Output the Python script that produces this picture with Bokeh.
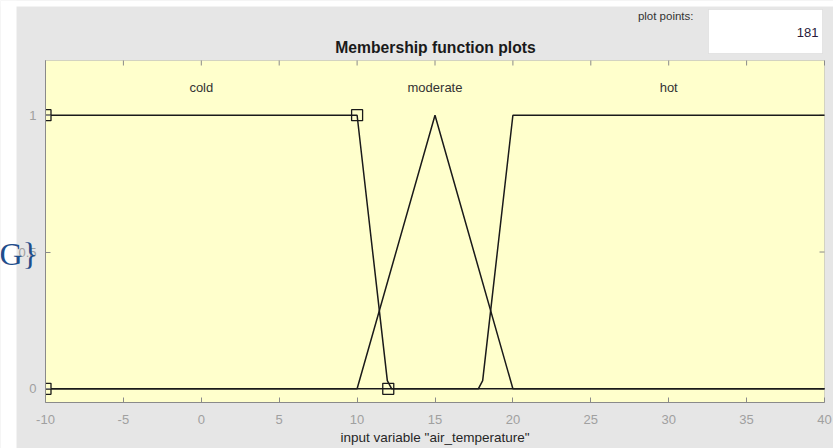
from bokeh.plotting import figure
from bokeh.models import Range1d, FixedTicker, Label, BoxAnnotation
from bokeh.embed import file_html
from bokeh.resources import INLINE

# axis ticks
x_ticks = [-10, -5, 0, 5, 10, 15, 20, 25, 30, 35, 40]
y_ticks = [0, 0.5, 1]

# membership functions of "air_temperature", as plotted over 181 points
cold_x = [-10, 10, 11.94, 12.22, 40]
cold_y = [1, 1, 0.03, 0, 0]
moderate_x = [-10, 10, 15, 20, 40]
moderate_y = [0, 0, 1, 0, 0]
hot_x = [-10, 17.78, 18.06, 20, 40]
hot_y = [0, 0, 0.03, 1, 1]

mf_names = ["cold", "moderate", "hot"]
mf_label_x = [0, 15, 30]
mf_label_y = 1.1

# parameter handles of the selected MF (cold)
handle_x = [-10, -10, 10, 12]
handle_y = [0, 1, 1, 0]

plot_points = 181

FONT = "Liberation Sans"
GREY_BG = "#e6e6e6"
FRAME = "#8a8a8a"

# window size and where the axes box sits in it (pixels)
W, H = 833, 448
LEFT, RIGHT, TOP, BOTTOM = 45, 824, 60, 402
# data extent of the axes box
X0, X1, Y0, Y1 = -10, 40, -0.05, 1.2
TICK = 5


def dx(px):
    """window column -> x value"""
    return X0 + (px - LEFT) * (X1 - X0) / (RIGHT - LEFT)


def dy(py):
    """window row -> y value"""
    return Y0 + (BOTTOM - py) * (Y1 - Y0) / (BOTTOM - TOP)


# the frame spans the whole window; the axes box is drawn inside it
p = figure(width=W, height=H, output_backend="svg", toolbar_location=None,
           x_range=Range1d(dx(0), dx(W)), y_range=Range1d(dy(H), dy(0)),
           min_border=0, title=None)
p.min_border_left = p.min_border_right = p.min_border_top = p.min_border_bottom = 0
p.border_fill_color = GREY_BG
p.background_fill_color = GREY_BG
p.outline_line_color = None
p.grid.visible = False

# white window margins
p.add_layout(BoxAnnotation(left=dx(0), right=dx(16), bottom=dy(H), top=dy(0),
                           fill_color="white", fill_alpha=1, line_color=None,
                           level="underlay"))
p.add_layout(BoxAnnotation(left=dx(0), right=dx(W), bottom=dy(6), top=dy(0),
                           fill_color="white", fill_alpha=1, line_color=None,
                           level="underlay"))

# axes box
p.add_layout(BoxAnnotation(left=X0, right=X1, bottom=Y0, top=Y1,
                           fill_color="#ffffcc", fill_alpha=1,
                           line_color=FRAME, line_width=1, level="underlay"))

xa, ya = p.xaxis[0], p.yaxis[0]
for ax, ticks, loc, bounds in [(xa, x_ticks, Y0, (X0, X1)), (ya, y_ticks, X0, (Y0, Y1))]:
    ax.fixed_location = loc
    ax.bounds = bounds
    ax.ticker = FixedTicker(ticks=ticks)
    ax.axis_line_color = FRAME
    ax.major_tick_line_color = FRAME
    ax.major_tick_in = TICK
    ax.major_tick_out = 0
    ax.minor_tick_line_color = None
    ax.major_label_text_font = FONT
    ax.major_label_text_font_size = "13px"
    ax.major_label_text_color = "#a0a0a0"

xa.major_label_standoff = 12
ya.major_label_standoff = 9
xa.major_label_overrides = {t: str(t) for t in x_ticks}
xa.axis_label = 'input variable "air_temperature"'
xa.axis_label_text_font = FONT
xa.axis_label_text_font_size = "13.5px"
xa.axis_label_text_font_style = "normal"
xa.axis_label_text_color = "#262626"
xa.axis_label_standoff = 3

# inward ticks on the top and right edges of the box
tick_dy = TICK * (Y1 - Y0) / (BOTTOM - TOP)
tick_dx = TICK * (X1 - X0) / (RIGHT - LEFT)
p.segment(x0=x_ticks, y0=[Y1] * len(x_ticks), x1=x_ticks, y1=[Y1 - tick_dy] * len(x_ticks),
          line_color=FRAME, line_width=1)
p.segment(x0=[X1] * len(y_ticks), y0=y_ticks, x1=[X1 - tick_dx] * len(y_ticks), y1=y_ticks,
          line_color=FRAME, line_width=1)

# curves
for xs, ys in [(cold_x, cold_y), (moderate_x, moderate_y), (hot_x, hot_y)]:
    p.line(xs, ys, line_color="#1a1a1a", line_width=1.5)

p.scatter(handle_x, handle_y, marker="square", size=11, fill_color=None,
          line_color="#1a1a1a", line_width=1.3)

# handles on the box edge are cut off by the box, as on screen
p.add_layout(BoxAnnotation(left=dx(38), right=dx(44.5), bottom=Y0, top=Y1,
                           fill_color=GREY_BG, fill_alpha=1, line_color=None,
                           level="guide"))

for name, lx in zip(mf_names, mf_label_x):
    p.add_layout(Label(x=lx, y=mf_label_y, text=name, text_align="center",
                       text_baseline="middle", text_font=FONT,
                       text_font_size="13px", text_color="#333333"))

# title
p.add_layout(Label(x=dx(435), y=dy(47), text="Membership function plots",
                   text_align="center", text_baseline="middle", text_font=FONT,
                   text_font_style="bold", text_font_size="15.7px", text_color="#1a1a1a"))

# plot points field
p.add_layout(BoxAnnotation(left=dx(708), right=dx(822), top=dy(9), bottom=dy(53),
                           fill_color="white", fill_alpha=1, line_color="#c4c4c4",
                           line_width=1))
p.add_layout(Label(x=dx(818), y=dy(32), text=str(plot_points),
                   text_align="right", text_baseline="middle", text_font=FONT,
                   text_font_size="13px", text_color="#2a1a3a"))
p.add_layout(Label(x=dx(693), y=dy(15), text="plot points:",
                   text_align="right", text_baseline="middle", text_font=FONT,
                   text_font_size="11.5px", text_color="#333333"))

# stray glyph at the left edge
p.add_layout(Label(x=dx(-1), y=dy(253), text="G}",
                   text_align="left", text_baseline="middle", text_font="Liberation Serif",
                   text_font_size="32px", text_color="#1f4e8c"))

open("out.html", "w").write(file_html(p, INLINE))
